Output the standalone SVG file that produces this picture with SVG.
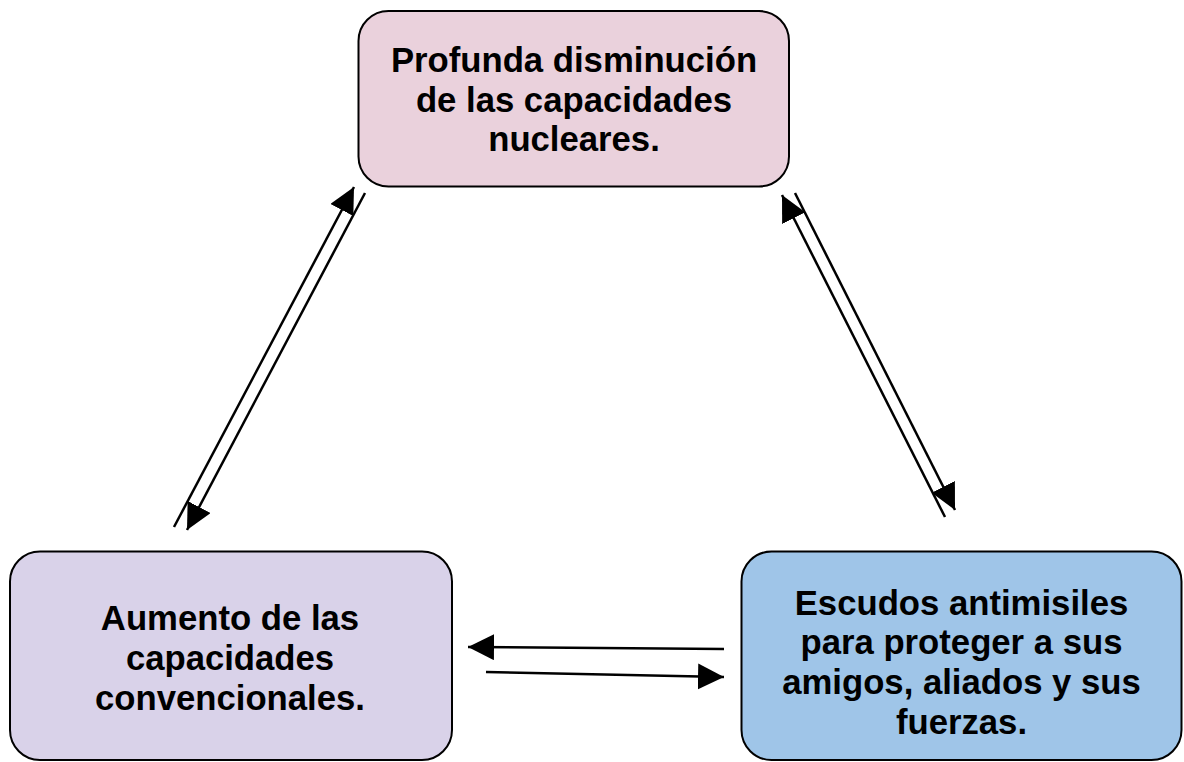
<svg xmlns="http://www.w3.org/2000/svg" width="1184" height="762" viewBox="0 0 1184 762">
<style>
.box{stroke:#000;stroke-width:2}
.t{font-family:"Liberation Sans",Arial,sans-serif;font-weight:bold;font-size:34.7px;fill:#000;text-anchor:middle}
.c{stroke:#000;stroke-width:2.5;fill:none;marker-end:url(#ah)}
</style>
<defs>
<marker id="ah" markerUnits="userSpaceOnUse" markerWidth="27" markerHeight="27" refX="26" refY="13" orient="auto" viewBox="0 0 27 27">
<path d="M0,0 L26,13 L0,26 z" fill="#000"/>
</marker>
</defs>
<rect width="1184" height="762" fill="#fff"/>
<g id="connectors">
<line class="c" x1="174" y1="527" x2="354" y2="187"/>
<line class="c" x1="365" y1="193" x2="187" y2="530"/>
<line class="c" x1="795" y1="193" x2="955" y2="510"/>
<line class="c" x1="945" y1="517" x2="782" y2="195"/>
<line class="c" x1="724" y1="649" x2="468" y2="647"/>
<line class="c" x1="486" y1="672" x2="724" y2="677"/>
</g>
<g id="node-top">
<rect class="box" x="358.5" y="11" width="430.5" height="175.5" rx="30" fill="#ead1dc"/>
<text class="t" x="574" y="72">Profunda disminución</text>
<text class="t" x="574" y="111.7">de las capacidades</text>
<text class="t" x="574" y="151.4">nucleares.</text>
</g>
<g id="node-left">
<rect class="box" x="10" y="551.5" width="442" height="208.5" rx="30" fill="#d9d2e9"/>
<text class="t" x="230" y="630.3">Aumento de las</text>
<text class="t" x="230" y="670">capacidades</text>
<text class="t" x="230" y="709.7">convencionales.</text>
</g>
<g id="node-right">
<rect class="box" x="741.5" y="551.5" width="440" height="208.5" rx="30" fill="#9fc5e8"/>
<text class="t" x="961.5" y="614.5">Escudos antimisiles</text>
<text class="t" x="961.5" y="654.2">para proteger a sus</text>
<text class="t" x="961.5" y="693.9">amigos, aliados y sus</text>
<text class="t" x="961.5" y="733.6">fuerzas.</text>
</g>
</svg>
